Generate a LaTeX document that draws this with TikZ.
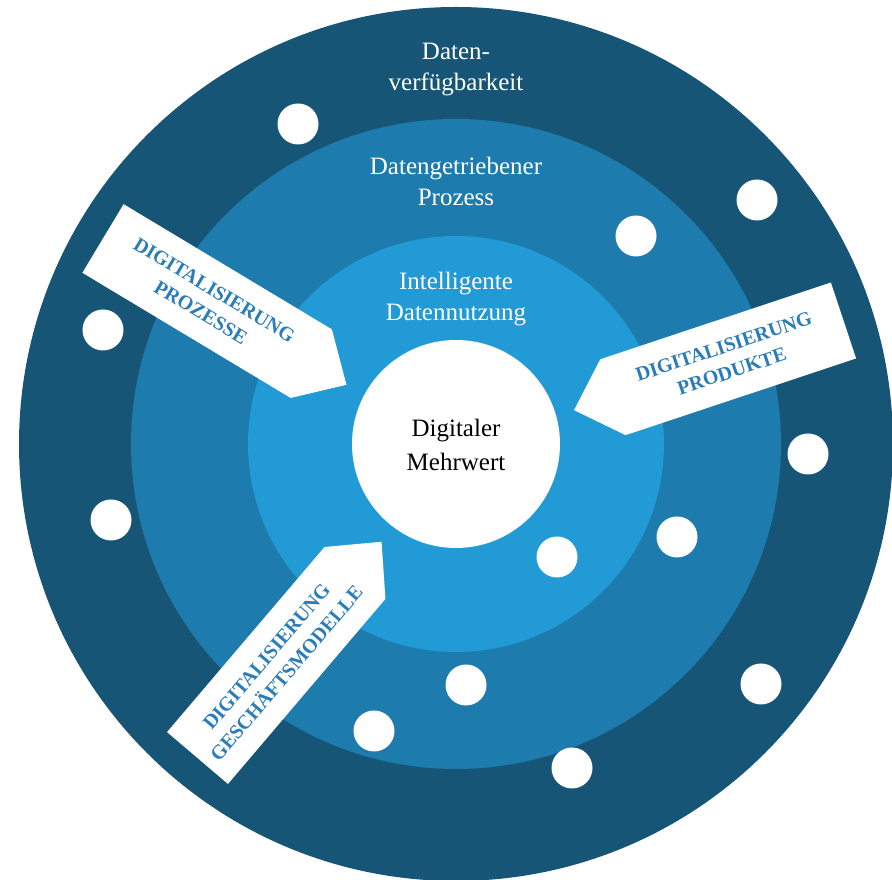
\documentclass[tikz,border=0pt]{standalone}
\usepackage{fontspec}
\setmainfont{Liberation Serif}
\definecolor{ringouter}{RGB}{22,85,118}
\definecolor{ringmid}{RGB}{30,123,173}
\definecolor{ringinner}{RGB}{34,154,214}
\definecolor{arrowtext}{RGB}{43,125,185}
\begin{document}
\begin{tikzpicture}[x=1pt,y=1pt,
  ring/.style={circle, inner sep=0pt, draw=none},
  ringlabel/.style={text=white, align=center, font=\fontsize{25}{31}\selectfont, inner sep=0pt},
  centerlabel/.style={text=black, align=center, font=\fontsize{25}{34}\selectfont, inner sep=0pt},
  dot/.style={fill=white, circle, minimum size=41pt, inner sep=0pt},
  arrowbody/.style={fill=white},
  arrowlabel/.style={text=arrowtext, align=center, font=\fontsize{20}{26}\selectfont\bfseries, inner sep=0pt, transform shape}]
\useasboundingbox (0,0) rectangle (892,880);
\coordinate (c) at (456,436);
% rings
\node[ring, fill=ringouter, minimum size=874pt] (outer) at (c) {};
\node[ring, fill=ringmid, minimum size=650pt] (middle) at (c) {};
\node[ring, fill=ringinner, minimum size=416pt] (inner) at (c) {};
\node[ring, fill=white, minimum size=208pt] (core) at (c) {};
% labels
\node[ringlabel] (lab1) at (456,810) {Daten-\\verfügbarkeit};
\node[ringlabel] (lab2) at (456,699) {Datengetriebener\\Prozess};
\node[ringlabel] (lab3) at (456,580.5) {Intelligente\\Datennutzung};
\node[centerlabel] (lab4) at (456,435.5) {Digitaler\\Mehrwert};
% dots
\node[dot] (d1) at (298,756) {};
\node[dot] (d2) at (757,680) {};
\node[dot] (d3) at (636,644) {};
\node[dot] (d4) at (103,550) {};
\node[dot] (d5) at (808,426) {};
\node[dot] (d6) at (111,360) {};
\node[dot] (d7) at (677,343) {};
\node[dot] (d8) at (557,323) {};
\node[dot] (d9) at (466,195) {};
\node[dot] (d10) at (761,196) {};
\node[dot] (d11) at (374,149) {};
\node[dot] (d12) at (572,112) {};
% arrow 1: Prozesse
\begin{scope}[shift={(103,641.5)}, rotate=-31]
  \fill[arrowbody] (0,-40) -- (243,-40) -- (284,0) -- (243,40) -- (0,40) -- cycle;
  \node[arrowlabel] (a1) at (122,0) {DIGITALISIERUNG\\PROZESSE};
\end{scope}
% arrow 2: Produkte
\begin{scope}[shift={(843.5,559.5)}, rotate=198.4]
  \fill[arrowbody] (0,-40) -- (243,-40) -- (284,0) -- (243,40) -- (0,40) -- cycle;
  \node[arrowlabel, rotate=180] (a2) at (122,0) {DIGITALISIERUNG\\PRODUKTE};
\end{scope}
% arrow 3: Geschaeftsmodelle
\begin{scope}[shift={(197.5,122)}, rotate=49.6]
  \fill[arrowbody] (0,-40) -- (243,-40) -- (284,0) -- (243,40) -- (0,40) -- cycle;
  \node[arrowlabel] (a3) at (122,0) {DIGITALISIERUNG\\GESCHÄFTSMODELLE};
\end{scope}
\end{tikzpicture}
\end{document}
